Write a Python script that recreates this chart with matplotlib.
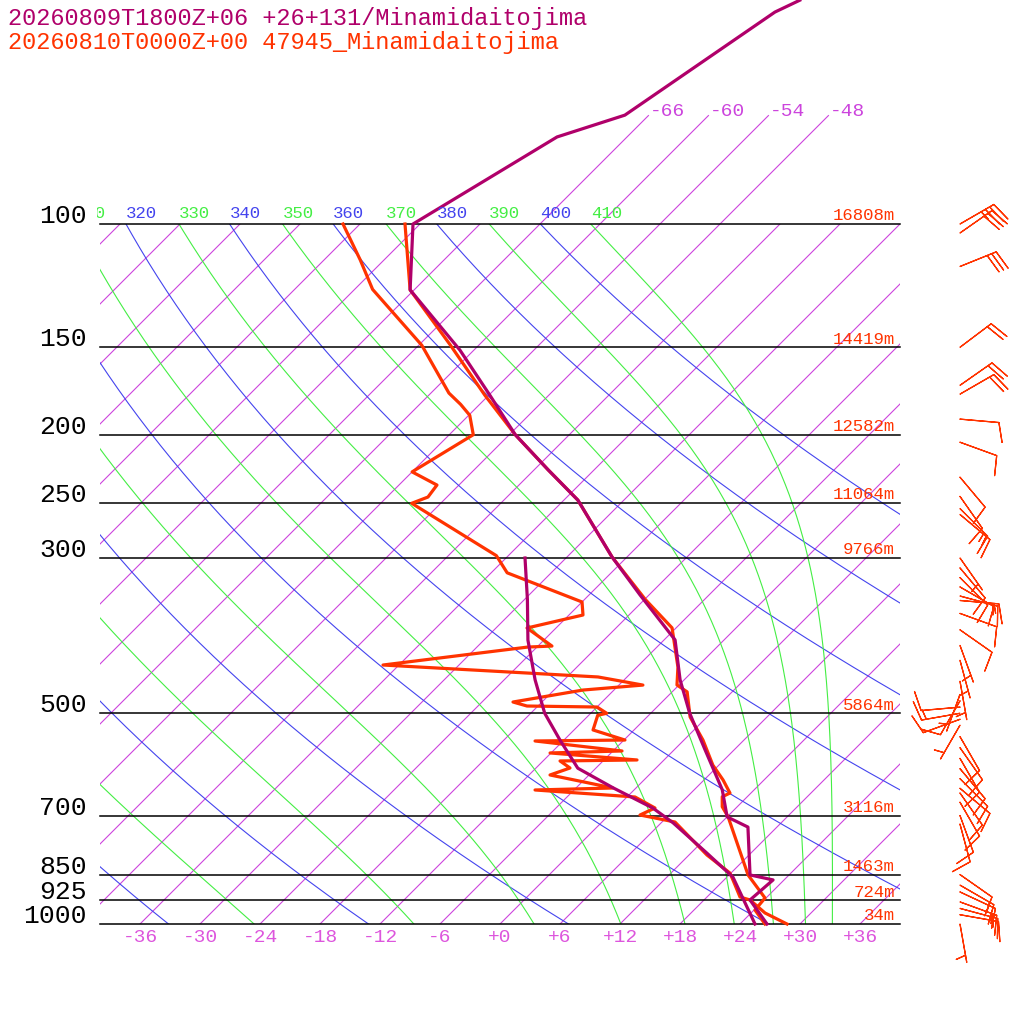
import numpy as np
import matplotlib
matplotlib.use("Agg")
import matplotlib.pyplot as plt
from matplotlib.patches import Rectangle

title1 = "20260809T1800Z+06 +26+131/Minamidaitojima"
title2 = "20260810T0000Z+00 47945_Minamidaitojima"

# forecast (purple) temperature profile: pressure hPa, temp C
fc_t_p = [47.9, 49.8, 69.9, 75.1, 100, 124.2, 151.4, 175.6, 200, 224.5, 248, 299, 338.8, 392.8, 448, 500, 564, 643, 703, 727, 851, 865, 924, 1000]
fc_t_T = [-62.4, -63.7, -68.4, -73.0, -78.7, -72.4, -61.4, -53.9, -47.4, -40.6, -34.6, -25.5, -18.9, -10.9, -6.4, -2.1, 3.1, 8.8, 12.0, 15.1, 20.1, 22.9, 22.6, 26.7]
# forecast dewpoint
fc_d_p = [300, 344, 393, 448, 500, 546, 599, 639, 683, 717, 792, 857, 1000]
fc_d_T = [-34.1, -29.7, -25.6, -20.9, -16.6, -12.4, -7.8, -2.3, 3.7, 7.2, 13.6, 18.6, 25.5]
# observed (red) temperature
ob_t_p = [100, 124.2, 148.8, 175.6, 200, 224.5, 248, 299, 344, 377.6, 429.5, 455.6, 466, 506, 546, 593, 622.6, 650, 658, 680, 703, 851, 918, 955, 1000]
ob_t_T = [-79.5, -72.4, -62.9, -54.4, -47.4, -40.6, -34.6, -25.5, -17.9, -12.4, -7.9, -6.2, -4.5, -1.7, 1.9, 5.4, 7.9, 9.9, 9.5, 10.5, 12.1, 19.9, 23.9, 24.1, 26.5]
# observed dewpoint
ob_d_p = [100, 112.5, 124, 149, 174.4, 181, 187.6, 200, 226, 236, 245.5, 250.6, 297.7, 315, 346.7, 361.9,
          377.7, 400.8, 402.1, 426.6, 443.7, 455.7, 463.2, 481.8, 488.2, 489.8, 500, 503.3, 528.2, 546, 547.7,
          566, 569.7, 583, 584.9, 598.6, 612.5, 639.3, 643.5, 658.5, 682.8, 698.7, 715, 797, 845.7, 865.3,
          915, 924, 964.4, 1000]
ob_d_T = [-85.7, -80.4, -76.2, -65.7, -58.2, -55.9, -53.9, -51.6, -54.0, -50.2, -49.9, -50.9, -37.2, -34.4, -24.0, -22.6,
          -26.9, -22.6, -24.9, -37.6, -14.9, -9.6, -15.1, -20.9, -19.1, -12.0, -10.4, -11.1, -10.1, -5.9, -14.8,
          -5.1, -12.1, -2.7, -10.3, -8.6, -9.9, -2.3, -9.9, 0.8, 3.9, 3.1, 7.3, 13.8, 17.9, 18.9,
          21.3, 22.6, 25.4, 28.7]

# wind (p hPa, direction deg, speed kt)
wind_p = [100, 103, 115, 150, 170, 175, 190, 205, 230, 245, 255, 260, 300, 310, 320, 330, 340, 345, 360, 380,
          400, 420, 450, 470, 480, 490, 500, 510, 520, 540, 560, 580, 600, 620, 640, 650, 670, 700, 720,
          850, 880, 900, 930, 950, 970, 1000]
wind_dir = [60, 55, 68, 53, 55, 60, 95, 110, 140, 145, 135, 130, 145, 140, 135, 120, 105, 95, 110, 125,
            160, 165, 170, 200, 210, 265, 260, 250, 210, 150, 145, 150, 140, 135, 130, 145, 150, 160, 165,
            125, 120, 115, 110, 105, 100, 170]
wind_spd = [35, 30, 30, 20, 20, 20, 10, 10, 10, 10, 15, 15, 5, 10, 10, 10, 15, 15, 10, 10,
            5, 5, 5, 5, 10, 10, 15, 10, 5, 10, 10, 10, 10, 10, 10, 10, 10, 10, 10,
            10, 15, 10, 15, 15, 10, 5]

plevels = [100, 150, 200, 250, 300, 500, 700, 850, 925, 1000]
heights = ["16808m", "14419m", "12582m", "11064m", "9766m", "5864m", "3116m", "1463m", "724m", "34m"]
tick_T = list(range(-36, 37, 6))

PURPLE = "#b0006a"
RED = "#ff3300"
ISO = "#cc44dd"
GREEN = "#44ee44"
BLUE = "#4444ee"
FONT = ["Liberation Mono", "DejaVu Sans Mono"]


def Y(p):
    return 100 + 700 * np.log10(1000.0 / np.asarray(p, float))


def X(T, p):
    return 500 + 10 * np.asarray(T, float) + 700 * np.log10(1000.0 / np.asarray(p, float))


fig = plt.figure(figsize=(10.24, 10.24), dpi=100)
ax = fig.add_axes([0, 0, 1, 1])
ax.set_xlim(0, 1024)
ax.set_ylim(0, 1024)
ax.axis("off")

clip_main = Rectangle((100, Y(1000)), 800, Y(100) - Y(1000), transform=ax.transData, fill=False, visible=False)
clip_top = Rectangle((100, Y(1000)), 800, 914 - Y(1000), transform=ax.transData, fill=False, visible=False)
labclip = Rectangle((97, 0), 900, 1024, transform=ax.transData, visible=False, fill=False)
for r in (clip_main, clip_top, labclip):
    ax.add_patch(r)

# isotherms
for T in range(-150, 41, 6):
    ptop = 70 if -66 <= T <= -48 else 100
    pp = np.array([1000, ptop])
    ln, = ax.plot(X(T, pp), Y(pp), color=ISO, lw=0.8)
    ln.set_clip_path(clip_top if ptop == 70 else clip_main)
    if ptop == 70:
        ax.text(X(T, 70) + 1, Y(70) + 4, f"{T:d}", color=ISO, fontsize=14, family=FONT,
                ha="left", va="center")

pgrid = np.logspace(3, 2, 200)


def add_label(x, txt, col):
    if x < 60:
        return
    t = ax.text(x, Y(100) + 11, txt, color=col, fontsize=12.5, family=FONT, ha="left", va="center")
    t.set_clip_path(labclip)
    t.set_clip_on(True)


# dry adiabats
for th in range(200, 401, 20):
    T = th * (pgrid / 1000.0) ** 0.2857 - 273.15
    ln, = ax.plot(X(T, pgrid), Y(pgrid), color=BLUE, lw=0.8)
    ln.set_clip_path(clip_main)
    add_label(float(X(T[-1], 100)), str(th), BLUE)


def theta_e(T, p):
    es = 6.112 * np.exp(17.67 * (T - 273.15) / (T - 29.65))
    ok = (p - es) > 1
    r = np.where(ok, 622 * es / np.maximum(p - es, 1), 1e4)
    r = np.minimum(r, 300)
    return T * (1000 / p) ** (0.2854 * (1 - 0.28e-3 * r)) * np.exp((3.376 / T - 0.00254) * r * (1 + 0.81e-3 * r))


def moist_T(the, p):
    lo = np.full_like(p, 150.0)
    hi = np.full_like(p, 325.0)
    for _ in range(60):
        mid = 0.5 * (lo + hi)
        f = theta_e(mid, p) > the
        hi = np.where(f, mid, hi)
        lo = np.where(f, lo, mid)
    return 0.5 * (lo + hi) - 273.15


for the in range(230, 411, 20):
    T = moist_T(the, pgrid)
    ln, = ax.plot(X(T, pgrid), Y(pgrid), color=GREEN, lw=0.8)
    ln.set_clip_path(clip_main)
    add_label(float(X(T[-1], 100)), str(the), GREEN)

# pressure lines and labels
for p, h in zip(plevels, heights):
    ax.plot([100, 900], [Y(p), Y(p)], color="black", lw=1.1)
    ax.text(87, Y(p) + 8, str(p), color="black", fontsize=19, family=FONT, ha="right", va="center")
    ax.text(895, Y(p) + 8, h, color=RED, fontsize=12.5, family=FONT, ha="right", va="center")

for T in tick_T:
    lab = ("+" if T >= 0 else "-") + str(abs(T))
    ax.text(X(T, 1000), Y(1000) - 13, lab, color="#dd55dd", fontsize=14, family=FONT, ha="center", va="center")

# profiles
ax.plot(X(ob_d_T, ob_d_p), Y(ob_d_p), color=RED, lw=2.3)
ax.plot(X(ob_t_T, ob_t_p), Y(ob_t_p), color=RED, lw=2.3)
ax.plot(X(fc_d_T, fc_d_p), Y(fc_d_p), color=PURPLE, lw=2.3)
ax.plot(X(fc_t_T, fc_t_p), Y(fc_t_p), color=PURPLE, lw=2.3)

# winds
wd = np.radians(wind_dir)
sp = np.array(wind_spd, float)
u = -sp * np.sin(wd)
v = -sp * np.cos(wd)
ax.barbs(np.full(len(wind_p), 960.0), Y(wind_p), u, v, color=RED, length=7.5, linewidth=0.9,
         sizes=dict(emptybarb=0.0, height=0.5))

ax.text(8, 1006, title1, color=PURPLE, fontsize=17, family=FONT, ha="left", va="center")
ax.text(8, 982, title2, color=RED, fontsize=17, family=FONT, ha="left", va="center")

fig.savefig("out.png", dpi=100)
